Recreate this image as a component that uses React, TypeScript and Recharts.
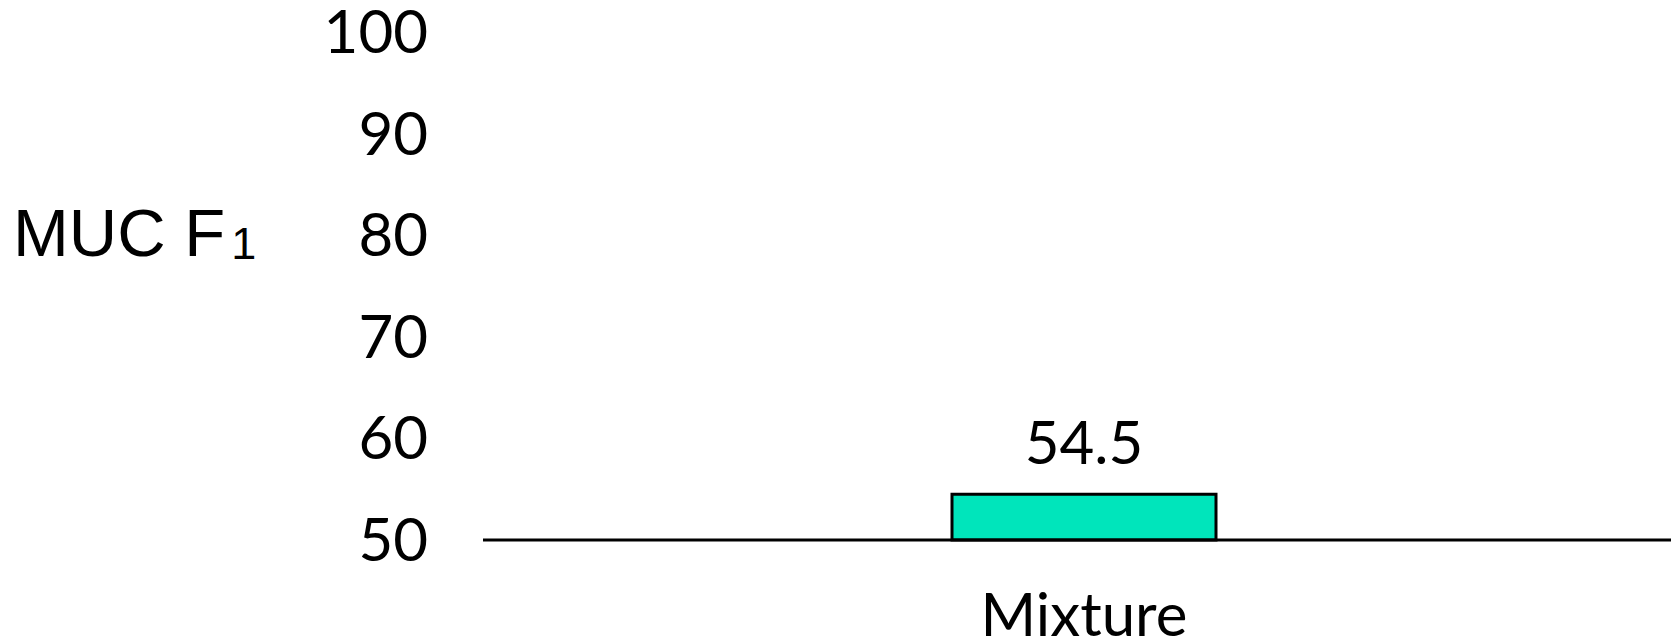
import React from 'react';
import { BarChart, Bar, XAxis, YAxis, LabelList, Label } from 'recharts';

const categories = ['Mixture'];
const values = [54.5];
const yTicks = [50, 60, 70, 80, 90, 100];
const yTitle = 'MUC F';
const yTitleSub = '1';

const data = categories.map((c, i) => ({ name: c, value: values[i] }));

const NUM_FONT = 'Lato, "Open Sans", sans-serif';

const YTick = (props: any) => (
  <text x={props.x} y={props.y} dy={21} textAnchor="end" fontFamily={NUM_FONT} fontSize={60} fill="#000">
    {props.payload.value}
  </text>
);

const XTick = (props: any) => (
  <text x={props.x} y={props.y} dy={96} textAnchor="middle" fontFamily={NUM_FONT} fontSize={60} fill="#000">
    {props.payload.value}
  </text>
);

const YTitle = (props: any) => {
  const vb = props.viewBox || { x: 0 };
  return (
    <text x={vb.x + 13} y={256} fontFamily='"Liberation Sans", Arial, sans-serif' fontSize={67} fill="#000">
      {yTitle}
      <tspan fontSize={45} dy={3} dx={6}>{yTitleSub}</tspan>
    </text>
  );
};

const ValueLabel = (props: any) => {
  const { x, y, width, value } = props;
  return (
    <text x={x + width / 2} y={y - 30} textAnchor="middle" fontFamily={NUM_FONT} fontSize={60} fill="#000">
      {value}
    </text>
  );
};

export default function App() {
  return (
    <div style={{ position: 'absolute', left: 0, top: 0, width: 1671, height: 641, overflow: 'hidden', background: '#fff' }}>
      <BarChart width={1685} height={641} data={data} margin={{ top: 32, right: 0, bottom: 41, left: 0 }}>
        <YAxis
          width={483}
          domain={[50, 100]}
          ticks={yTicks}
          axisLine={false}
          tickLine={false}
          tickSize={0}
          tickMargin={55}
          tick={<YTick />}
        >
          <Label content={<YTitle />} />
        </YAxis>
        <XAxis
          dataKey="name"
          height={60}
          axisLine={{ stroke: '#000', strokeWidth: 3 }}
          tickLine={false}
          tickSize={0}
          tickMargin={0}
          tick={<XTick />}
        />
        <Bar dataKey="value" barSize={264} fill="#00E5BB" stroke="#000" strokeWidth={3} isAnimationActive={false}>
          <LabelList dataKey="value" content={<ValueLabel />} />
        </Bar>
      </BarChart>
    </div>
  );
}
